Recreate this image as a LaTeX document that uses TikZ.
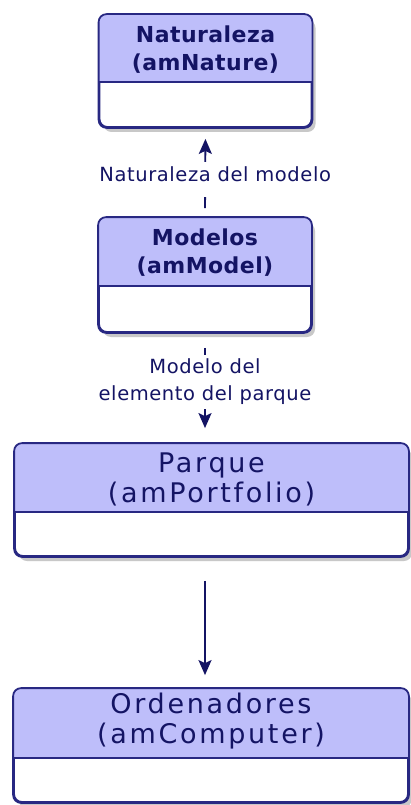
\documentclass[tikz,border=0pt]{standalone}
\usepackage{fontspec}
\setmainfont{DejaVu Sans}
\newfontfamily\lblfont[LetterSpace=3]{DejaVu Sans}
\newfontfamily\hdrbfont[LetterSpace=2]{DejaVu Sans}
\newfontfamily\hdrfont[LetterSpace=10]{DejaVu Sans}
\usetikzlibrary{shadows,arrows.meta,calc}
\definecolor{hdrfill}{RGB}{190,190,250}
\definecolor{edgecol}{RGB}{40,40,130}
\definecolor{ink}{RGB}{20,20,100}
\tikzset{
  umlbox/.style={draw=edgecol, line width=1.8pt, rounded corners=8pt, fill=white,
    drop shadow={shadow xshift=4pt, shadow yshift=-5pt, opacity=0.3, fill=black!70},
    inner sep=0pt},
  boxedge/.style={draw=edgecol, line width=1.8pt},
  titlesmall/.style={text=ink, align=center, inner sep=0pt,
    font=\hdrbfont\bfseries\fontsize{22}{28}\selectfont},
  titlebig/.style={text=ink, align=center, inner sep=0pt,
    font=\hdrfont\fontsize{27}{30}\selectfont},
  conn/.style={draw=ink, line width=1.8pt, -{Stealth[length=15pt,width=13pt,inset=3pt]}},
  lbl/.style={text=ink, fill=white, align=center, inner xsep=3pt, inner ysep=4pt,
    font=\lblfont\fontsize{19.5}{27}\selectfont},
}
\newcommand\headerband[2]{%
  \begin{scope}
    \clip[rounded corners=8pt] (#1.north west) rectangle (#1.south east);
    \fill[hdrfill] (#1.north west) rectangle (#1.east |- 0,#2);
  \end{scope}
  \draw[boxedge] (#1.west |- 0,#2) -- (#1.east |- 0,#2);
  \draw[boxedge, rounded corners=8pt] (#1.north west) rectangle (#1.south east);
}
\begin{document}
\begin{tikzpicture}[x=1pt,y=-1pt]
  \fill[white] (0,0) rectangle (411,805);
  \useasboundingbox (0,0) rectangle (411,805);

  % boxes
  \node[umlbox, minimum width=212pt, minimum height=112pt] (nat) at (205.5,71) {};
  \headerband{nat}{82}
  \node[titlesmall] (natt) at (205.5,50) {Naturaleza\\(amNature)};

  \node[umlbox, minimum width=212pt, minimum height=114pt] (mod) at (205,275) {};
  \headerband{mod}{286}
  \node[titlesmall] (modt) at (205,253) {Modelos\\(amModel)};

  \node[umlbox, minimum width=393pt, minimum height=112pt] (par) at (211.5,500) {};
  \headerband{par}{512}
  \node[titlebig] (part) at (211.5,479) {Parque\\(amPortfolio)};

  \node[umlbox, minimum width=394pt, minimum height=113pt] (ord) at (211,745.5) {};
  \headerband{ord}{758}
  \node[titlebig] (ordt) at (211,721) {Ordenadores\\(amComputer)};

  % connectors
  \draw[conn, shorten <=9pt, shorten >=11pt] (mod.north) --
    node[lbl, pos=0.4045, anchor=base, text depth=12pt, xshift=10pt] (l1) {Naturaleza del modelo}
    (nat.south);
  \draw[conn, shorten <=15pt, shorten >=15pt] (mod.south) --
    node[lbl, pos=0.445] (l2) {Modelo del\\elemento del parque}
    (par.north -| mod.south);
  \draw[conn, shorten <=24pt, shorten >=13pt] (par.south -| mod.south) -- (ord.north -| mod.south);
\end{tikzpicture}
\end{document}
